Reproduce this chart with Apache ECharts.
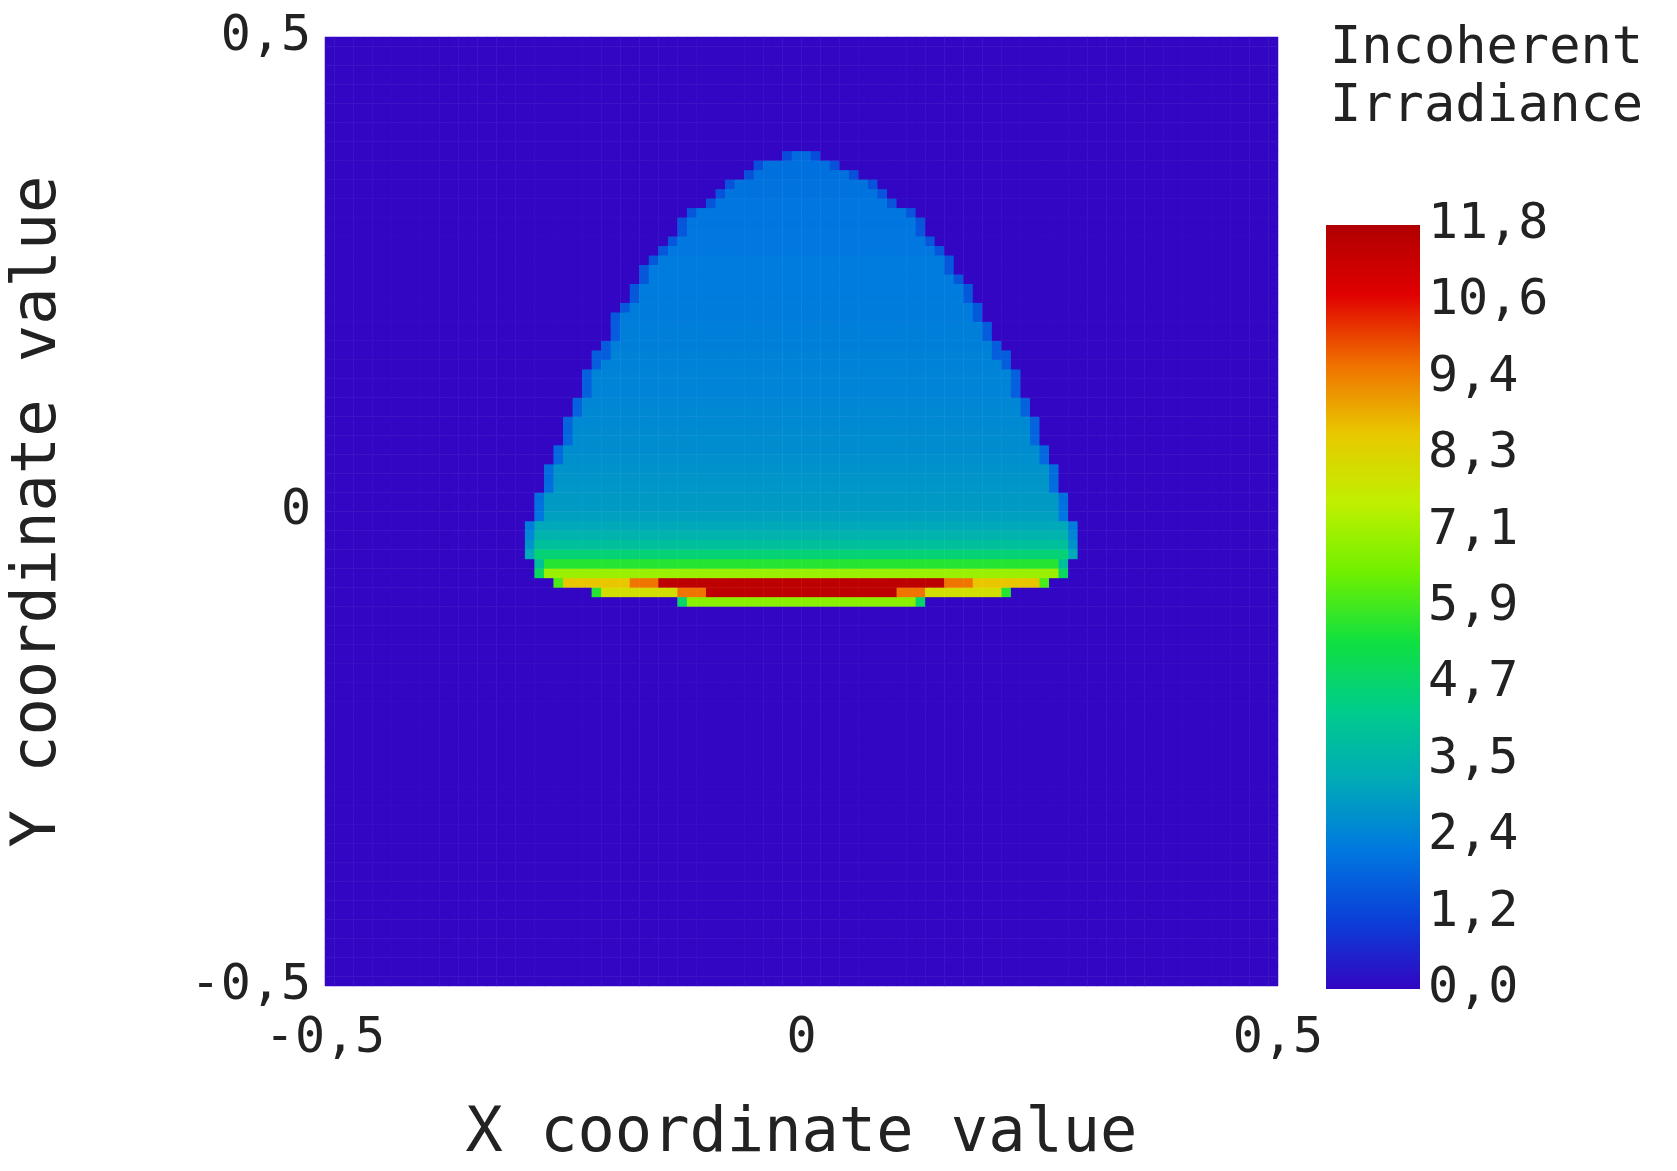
<!DOCTYPE html>
<html>
<head>
<meta charset="utf-8">
<script src="https://cdn.jsdelivr.net/npm/echarts@6/dist/echarts.min.js"></script>
<style>html,body{margin:0;background:#fff}#chart{width:1677px;height:1171px}</style>
</head>
<body>
<div id="chart"></div>
<script>
// cell grid: 100 x 100 cells over [-0.5, 0.5]
const nCells = 100;
// rows of the lit shape, from y=-0.095 upward in steps of 0.01
const shapeRowY = [-0.095,-0.085,-0.075,-0.065,-0.055,-0.045,-0.035,-0.025,-0.015,-0.005,
  0.005,0.015,0.025,0.035,0.045,0.055,0.065,0.075,0.085,0.095,0.105,0.115,0.125,0.135,0.145,
  0.155,0.165,0.175,0.185,0.195,0.205,0.215,0.225,0.235,0.245,0.255,0.265,0.275,0.285,0.295,
  0.305,0.315,0.325,0.335,0.345,0.355,0.365,0.375];
// half width of the shape on each row
const shapeHalfWidth = [0.13,0.22,0.26,0.275,0.282,0.287,0.29,0.291,0.289,0.285,
  0.281,0.277,0.273,0.269,0.265,0.261,0.257,0.253,0.249,0.245,0.241,0.237,0.233,0.229,0.225,
  0.22,0.215,0.21,0.205,0.2,0.195,0.19,0.184,0.178,0.172,0.165,0.158,0.15,0.142,0.134,
  0.125,0.115,0.104,0.092,0.078,0.06,0.045,0.02];
// irradiance level on each row
const shapeLevel = [6.8,8.0,8.6,7.0,5.6,4.6,3.9,3.5,3.2,3.0,
  2.9,2.85,2.8,2.75,2.7,2.65,2.6,2.6,2.55,2.5,2.5,2.45,2.4,2.4,2.4,
  2.35,2.35,2.3,2.3,2.3,2.25,2.25,2.25,2.2,2.2,2.2,2.2,2.15,2.15,2.15,
  2.1,2.1,2.1,2.05,2.05,2.0,2.0,1.9];
// hot core (red band) half widths on the lowest rows
const coreHalfWidth = [0,0.1,0.15,0,0,0,0,0,0,0];
const coreLevel = 11.5;
const scaleTicks = ['0,0','1,2','2,4','3,5','4,7','5,9','7,1','8,3','9,4','10,6','11,8'];
const scaleMax = 11.8;
const palette = ['#3206c2','#0a40d8','#0078e0','#00aab8','#00cc8c','#10e040','#70f000','#c0f000','#e8c800','#f07000','#e00000','#b00000'];

const data = [];
const rowStart = Math.round((shapeRowY[0] + 0.5) / 0.01 - 0.5);
for (let i = 0; i < nCells; i++) {
  for (let j = 0; j < nCells; j++) {
    const x = -0.495 + 0.01 * j;
    const k = i - rowStart;
    let v = 0;
    if (k >= 0 && k < shapeRowY.length) {
      const hw = shapeHalfWidth[k];
      const ax = Math.abs(x);
      if (ax <= hw) {
        v = shapeLevel[k];
        if (hw - ax < 0.01) v *= 0.7;
        const ch = coreHalfWidth[k] || 0;
        if (ch > 0 && ax <= ch) v = coreLevel;
        else if (ch > 0 && ax <= ch + 0.03) v = 9.6;
      }
    }
    data.push([j, i, v]);
  }
}

const fmt = v => (Math.abs(v) < 1e-9 ? '0' : String(v).replace('.', ','));
const font = 'DejaVu Sans Mono';
const cats = Array.from({ length: nCells }, (_, i) => i);
const chart = echarts.init(document.getElementById('chart'));
chart.setOption({
  animation: false,
  grid: [{ left: 321, top: 37, width: 957, height: 954 },
         { left: 1326, top: 225, width: 94, height: 764 }],
  xAxis: [
    { type: 'category', data: cats, show: false, gridIndex: 0 },
    { type: 'value', min: -0.5, max: 0.5, interval: 0.5, gridIndex: 0, position: 'bottom',
      axisLine: { show: false }, axisTick: { show: false }, splitLine: { show: false },
      axisLabel: { formatter: fmt, fontFamily: font, fontSize: 50, color: '#222', margin: 28 },
      name: 'X coordinate value', nameLocation: 'middle', nameGap: 118,
      nameTextStyle: { fontFamily: font, fontSize: 62, color: '#222' } },
    { type: 'value', min: 0, max: 1, show: false, gridIndex: 1 }
  ],
  yAxis: [
    { type: 'category', data: cats, show: false, gridIndex: 0 },
    { type: 'value', min: -0.5, max: 0.5, interval: 0.5, gridIndex: 0, position: 'left',
      axisLine: { show: false }, axisTick: { show: false }, splitLine: { show: false },
      axisLabel: { formatter: fmt, fontFamily: font, fontSize: 50, color: '#222', margin: 14 },
      name: 'Y coordinate value', nameLocation: 'middle', nameGap: 255,
      nameTextStyle: { fontFamily: font, fontSize: 62, color: '#222' } },
    { type: 'value', min: 0, max: scaleMax, interval: scaleMax / 10, gridIndex: 1, position: 'right',
      axisLine: { show: false }, axisTick: { show: false }, splitLine: { show: false },
      axisLabel: { formatter: (v, idx) => scaleTicks[idx], fontFamily: font, fontSize: 50, color: '#222', margin: 8 } }
  ],
  visualMap: { show: false, min: 0, max: scaleMax, seriesIndex: 0, inRange: { color: palette } },
  series: [{ type: 'heatmap', xAxisIndex: 0, yAxisIndex: 0, data: data, progressive: 0 }],
  graphic: [
    { type: 'rect', shape: { x: 1326, y: 225, width: 94, height: 764 },
      style: { fill: new echarts.graphic.LinearGradient(0, 1, 0, 0,
        palette.map((c, i) => ({ offset: i / (palette.length - 1), color: c }))) } },
    { type: 'text', left: 1330, top: 20,
      style: { text: 'Incoherent\nIrradiance', font: '52px "DejaVu Sans Mono"', fill: '#222', lineHeight: 58 } }
  ]
});
</script>
</body>
</html>
